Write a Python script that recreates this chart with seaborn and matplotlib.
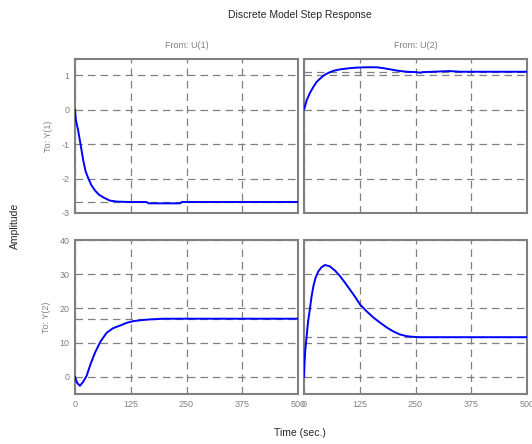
import matplotlib
matplotlib.use("Agg")
import matplotlib.pyplot as plt
import seaborn as sns
import pandas as pd

# step response data
t11 = [0, 2, 7, 12.6, 18.6, 24, 30, 37, 45, 54, 64, 78, 95, 120, 160, 165, 235, 240, 300, 400, 500]
y11 = [0, -0.3, -0.6, -1.02, -1.48, -1.8, -2.0, -2.2, -2.35, -2.47, -2.55, -2.64, -2.67, -2.68, -2.68, -2.72, -2.72, -2.68, -2.68, -2.68, -2.68]

t12 = [0, 6, 13, 21, 28, 36, 45, 55, 67, 81, 100, 118, 140, 163, 180, 193, 210, 230, 250, 262, 266, 290, 327, 350, 400, 500]
y12 = [0, 0.27, 0.48, 0.66, 0.8, 0.9, 1.0, 1.07, 1.13, 1.17, 1.2, 1.22, 1.23, 1.23, 1.2, 1.17, 1.13, 1.1, 1.09, 1.07, 1.09, 1.1, 1.12, 1.1, 1.1, 1.1]

t21 = [0, 5, 11, 18, 26, 35, 45, 57, 71, 85, 101, 116, 131, 150, 168, 200, 250, 350, 500]
y21 = [0, -1.8, -2.6, -1.5, 0.3, 3.8, 7.1, 10.3, 12.9, 14.2, 15.0, 15.8, 16.3, 16.6, 16.8, 17.0, 17.0, 17.0, 17.0]

t22 = [0, 1, 3, 6, 9, 13, 17, 21, 26, 32, 39, 47, 58, 70, 81, 92, 103, 115, 126, 141, 156, 171, 186, 200, 215, 230, 245, 260, 300, 400, 500]
y22 = [0, 3.7, 8.0, 11.9, 16.0, 19.7, 23.5, 26.5, 29.0, 30.8, 32.0, 32.7, 32.3, 31.0, 29.4, 27.5, 25.5, 23.3, 21.1, 19.1, 17.3, 15.8, 14.4, 13.3, 12.4, 11.9, 11.7, 11.6, 11.6, 11.6, 11.6]

steady = [[-2.68, 1.1], [17.0, 11.6]]
outputs = ["To: Y(1)", "To: Y(2)"]
inputs = ["From: U(1)", "From: U(2)"]
x_ticks = [0, 125, 250, 375, 500]
y_ticks = [[-3, -2, -1, 0, 1], [0, 10, 20, 30, 40]]
y_lims = [(-3, 1.47), (-5, 40)]

frames = []
for (t, y, o, i) in [(t11, y11, 0, 0), (t12, y12, 0, 1), (t21, y21, 1, 0), (t22, y22, 1, 1)]:
    frames.append(pd.DataFrame({"time": t, "amp": y, "out": o, "inp": i}))
df = pd.concat(frames, ignore_index=True)

sns.set_style("white")
plt.rcParams["font.family"] = ["Liberation Sans", "DejaVu Sans"]
plt.rcParams["axes.unicode_minus"] = False

gray = "#808080"
fig = plt.figure(figsize=(5.32, 4.44), dpi=100)
left, w, gap = 75 / 532, 223 / 532, 6 / 532
rows = [(1 - 213 / 444, 154 / 444), (1 - 394 / 444, 154 / 444)]

for r in range(2):
    for c in range(2):
        ax = fig.add_axes([left + c * (w + gap), rows[r][0], w, rows[r][1]])
        sub = df[(df["out"] == r) & (df["inp"] == c)]
        sns.lineplot(data=sub, x="time", y="amp", color="blue", linewidth=1.4, ax=ax, zorder=3)
        ax.axhline(steady[r][c], color=gray, linestyle=(0, (6, 4)), linewidth=0.9, zorder=1)
        ax.set_xlim(0, 500)
        ax.set_ylim(*y_lims[r])
        ax.set_xticks(x_ticks)
        ax.set_yticks(y_ticks[r])
        ax.grid(True, color=gray, linestyle=(0, (6, 4)), linewidth=0.9)
        ax.tick_params(direction="in", length=3, color=gray, labelcolor=gray, labelsize=6.5, pad=4)
        for s in ax.spines.values():
            s.set_color(gray)
            s.set_linewidth(1.5)
        ax.set_xlabel("")
        ax.set_ylabel("")
        if r == 0:
            ax.set_xticklabels([])
            ax.set_title(inputs[c], color=gray, fontsize=6.5, pad=8)
        if c == 1:
            ax.set_yticklabels([])
        else:
            ax.set_ylabel(outputs[r], color=gray, fontsize=6.5, labelpad=6)

fig.text(300 / 532, 1 - 15 / 444, "Discrete Model Step Response", ha="center", va="center", fontsize=7.5)
fig.text(300 / 532, 1 - 433 / 444, "Time (sec.)", ha="center", va="center", fontsize=7.5)
fig.text(15 / 532, 1 - 226 / 444, "Amplitude", ha="center", va="center", rotation=90, fontsize=7.5)

fig.savefig("out.png", dpi=100)
